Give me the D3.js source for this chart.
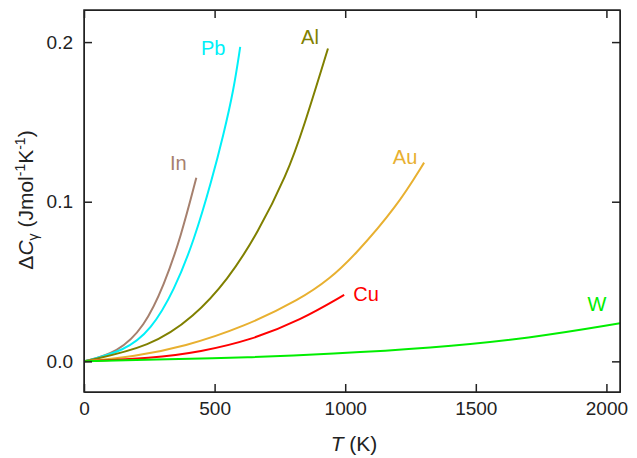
<!DOCTYPE html>
<html>
<head>
<meta charset="utf-8">
<script src="https://cdn.jsdelivr.net/npm/d3@7"></script>
<style>
  body { margin: 0; background: #fff; }
  svg { font-family: "Liberation Sans", Arial, sans-serif; }
  .axis path, .axis line { stroke: #222; }
  .axis text { font-size: 19px; fill: #222; }
</style>
</head>
<body>
<div id="chart"></div>
<script>
// values: [T (K), delta C (J/mol/K)]
var names = ["In", "Pb", "Al", "Au", "Cu", "W"];
var inData = [[0, 0], [129, 0.0055], [231, 0.0215], [307, 0.048], [371, 0.078], [430, 0.115]];
var pbData = [[0, 0], [155, 0.0065], [257, 0.0196], [346, 0.0447], [422, 0.076], [490, 0.114], [534, 0.142], [573, 0.170], [598, 0.197]];
var alData = [[0, 0], [257, 0.0092], [422, 0.028], [550, 0.051], [664, 0.080], [777, 0.117], [840, 0.146], [934, 0.196]];
var auData = [[0, 0], [193, 0.003], [384, 0.0092], [614, 0.0217], [830, 0.039], [943, 0.052], [1034, 0.066], [1198, 0.097], [1302, 0.1245]];
var cuData = [[0, 0], [257, 0.0019], [448, 0.006], [639, 0.0134], [830, 0.0259], [996, 0.0416]];
var wData = [[0, 0], [257, 0.001], [639, 0.0025], [943, 0.0046], [1325, 0.0082], [1708, 0.0144], [2052, 0.0238]];
var xTicks = [0, 500, 1000, 1500, 2000];
var yTicks = [0, 0.1, 0.2];

var seriesData = [inData, pbData, alData, auData, cuData, wData];
var colors = ["#a6806e", "#00f0f8", "#808000", "#e8b030", "#ff0000", "#00ee00"];
// label offset from the end of each curve (px)
var labelOffset = {
  In: [-18, -15], Pb: [-27, 1], Al: [-18, -11],
  Au: [-19, -6], Cu: [22, -1], W: [-23, -19]
};

var width = 637, height = 458;
var margin = {top: 10, right: 17, bottom: 66, left: 84};
var w = width - margin.left - margin.right;
var h = height - margin.top - margin.bottom;

var svg = d3.select("#chart").append("svg")
    .attr("width", width)
    .attr("height", height)
  .append("g")
    .attr("transform", "translate(" + margin.left + "," + margin.top + ")");

var x = d3.scaleLinear().domain([0, 2052]).range([0, w]);
var y = d3.scaleLinear().domain([-0.0192, 0.2201]).range([h, 0]);

svg.append("clipPath").attr("id", "clip")
  .append("rect").attr("width", w).attr("height", h);

var line = d3.line()
    .x(function(d) { return x(d[0]); })
    .y(function(d) { return y(d[1]); })
    .curve(d3.curveBasis);

svg.append("g").attr("clip-path", "url(#clip)")
  .selectAll("path")
  .data(seriesData)
  .enter().append("path")
    .attr("d", line)
    .attr("fill", "none")
    .attr("stroke", function(d, i) { return colors[i]; })
    .attr("stroke-width", 2);

// labels
names.forEach(function(n, i) {
  var last = seriesData[i][seriesData[i].length - 1];
  var lx = Math.min(x(last[0]), w);
  svg.append("text")
    .attr("x", lx + labelOffset[n][0])
    .attr("y", y(last[1]) + labelOffset[n][1])
    .attr("dy", "0.35em")
    .attr("text-anchor", "middle")
    .style("font-size", "20px")
    .style("fill", colors[i])
    .text(n);
});

// axes, ticks pointing inward on all four sides
svg.append("g").attr("class", "axis")
  .attr("transform", "translate(0," + h + ")")
  .call(d3.axisBottom(x).tickValues(xTicks).tickSize(-8).tickSizeOuter(0).tickPadding(10)
    .tickFormat(d3.format("d")));
svg.append("g").attr("class", "axis")
  .call(d3.axisTop(x).tickValues(xTicks).tickSize(-8).tickSizeOuter(0).tickFormat(""));
svg.append("g").attr("class", "axis")
  .call(d3.axisLeft(y).tickValues(yTicks).tickSize(-8).tickSizeOuter(0).tickPadding(11)
    .tickFormat(d3.format(".1f")));
svg.append("g").attr("class", "axis")
  .attr("transform", "translate(" + w + ",0)")
  .call(d3.axisRight(y).tickValues(yTicks).tickSize(-8).tickSizeOuter(0).tickFormat(""));

svg.append("rect")
  .attr("width", w).attr("height", h)
  .attr("fill", "none").attr("stroke", "#222").attr("stroke-width", 1.5);

svg.selectAll(".axis line").attr("stroke-width", 1.5);

// axis titles
var xt = svg.append("text")
  .attr("x", w / 2 + 2)
  .attr("y", h + 59)
  .attr("text-anchor", "middle")
  .style("font-size", "21px")
  .style("fill", "#222");
xt.append("tspan").style("font-style", "italic").text("T");
xt.append("tspan").text(" (K)");

var yt = svg.append("text")
  .attr("transform", "translate(-51," + (h / 2 - 1) + ") rotate(-90)")
  .attr("text-anchor", "middle")
  .style("font-size", "21px")
  .style("fill", "#222");
yt.append("tspan").text("\u0394");
yt.append("tspan").style("font-style", "italic").text("C");
yt.append("tspan").attr("dy", 5).style("font-size", "14px").text("\u03b3");
yt.append("tspan").attr("dy", -5).text(" (Jmol");
yt.append("tspan").attr("dy", -8).style("font-size", "14px").text("-1");
yt.append("tspan").attr("dy", 8).text("K");
yt.append("tspan").attr("dy", -8).style("font-size", "14px").text("-1");
yt.append("tspan").attr("dy", 8).text(")");
</script>
</body>
</html>
